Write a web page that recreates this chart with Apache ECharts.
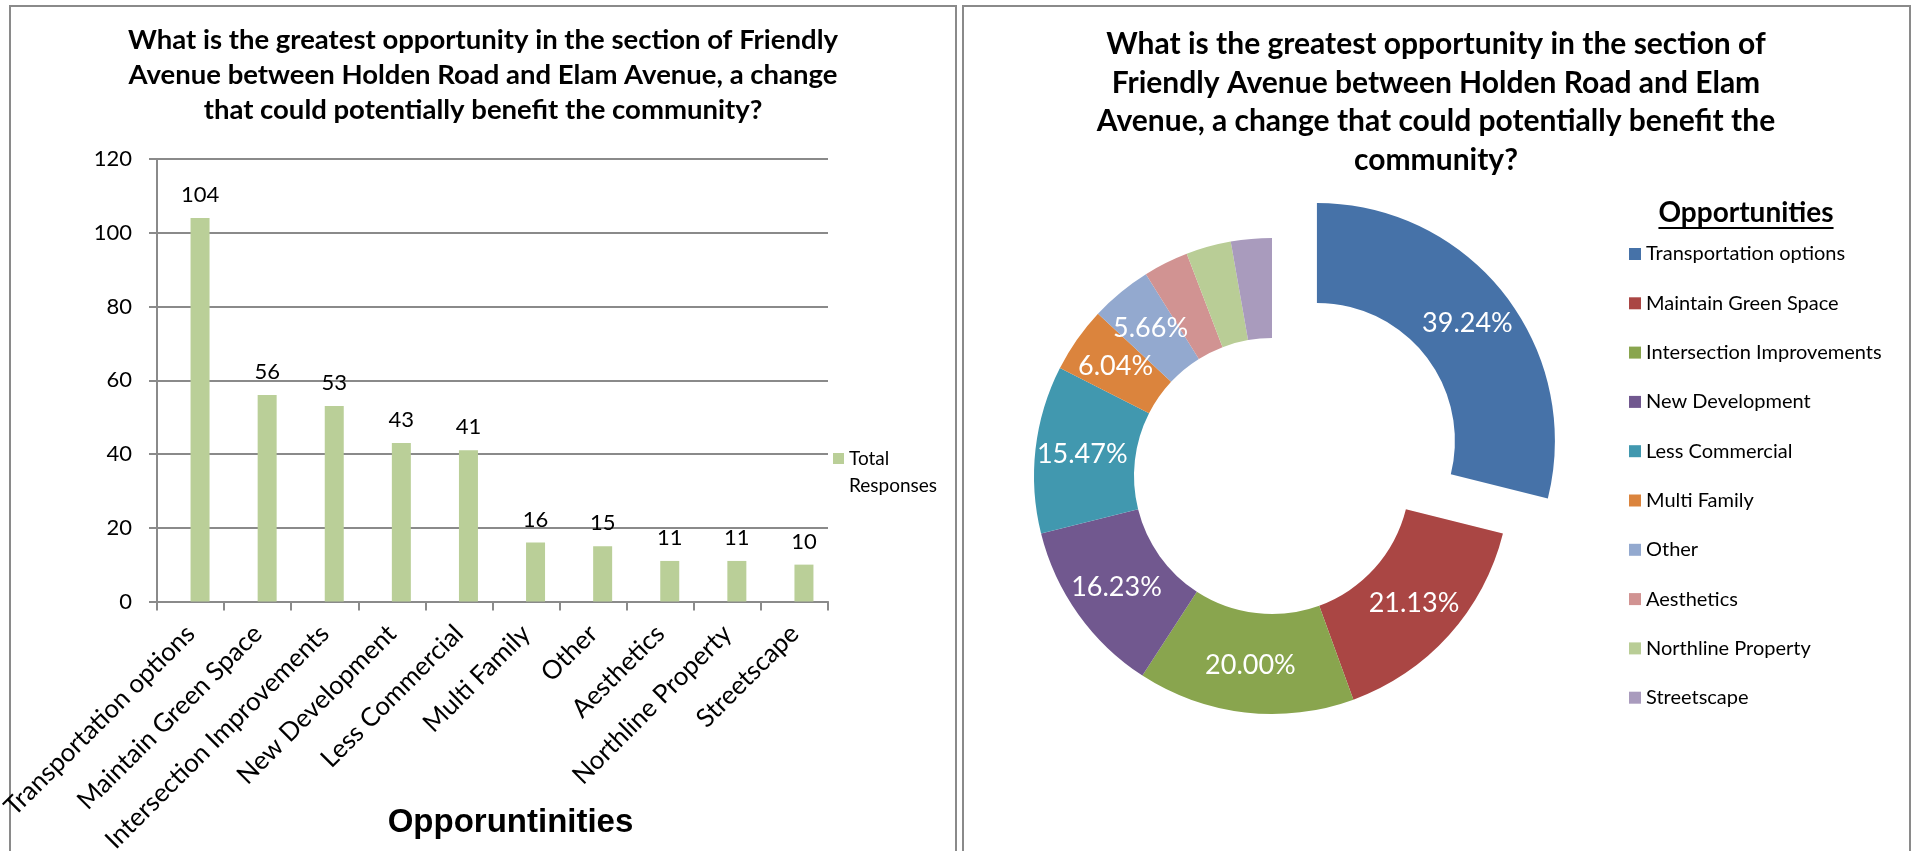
<!DOCTYPE html>
<html>
<head>
<meta charset="utf-8">
<script src="https://cdn.jsdelivr.net/npm/echarts@6/dist/echarts.min.js"></script>
<style>
  html, body { margin: 0; padding: 0; background: #ffffff; }
  #chart { width: 1917px; height: 851px; }
</style>
</head>
<body>
<div id="chart"></div>
<script>
// Survey answers: greatest opportunity on Friendly Avenue (Holden Rd – Elam Ave)
const categories = [
  'Transportation options', 'Maintain Green Space', 'Intersection Improvements',
  'New Development', 'Less Commercial', 'Multi Family', 'Other',
  'Aesthetics', 'Northline Property', 'Streetscape'
];
// number of answers per opportunity (bar chart)
const totalResponses = [104, 56, 53, 43, 41, 16, 15, 11, 11, 10];
// share of respondents choosing each opportunity, in percent (doughnut)
const respondentShare = [39.24, 21.13, 20.00, 16.23, 15.47, 6.04, 5.66, 4.15, 4.15, 3.77];
// empty companion series that keeps the bars in the right half of each slot
const spacerValues = [null, null, null, null, null, null, null, null, null, null];
const yAxisMin = 0;
const yAxisMax = 120;
const yAxisStep = 20;
const sliceColors = [
  '#4672A8', '#AA4644', '#89A54E', '#71588F', '#4198AF',
  '#DB843D', '#93A9CF', '#D19392', '#B9CD96', '#A99BBD'
];
const unlabelledSlices = ['Aesthetics', 'Northline Property', 'Streetscape'];
const barTitle = 'What is the greatest opportunity in the section of Friendly\n' +
  'Avenue between Holden Road and Elam Avenue, a change\n' +
  'that could potentially benefit the community?';
const pieTitle = 'What is the greatest opportunity in the section of\n' +
  'Friendly Avenue between Holden Road and Elam\n' +
  'Avenue, a change that could potentially benefit the\n' +
  'community?';
const barAxisName = 'Opporuntinities';
const legendHeading = 'Opportunities';
const barSeriesName = 'Total Responses';

const FONT = 'Lato, "Liberation Sans", sans-serif';
const GRAY = '#8a8a8a';

// width of the legend heading, used for its underline
function textWidth(str, font) {
  const ctx = document.createElement('canvas').getContext('2d');
  ctx.font = font;
  return ctx.measureText(str).width;
}
const headingFont = 'bold 28px Lato, "Liberation Sans", sans-serif';
const headingX = 1746;
const headingW = textWidth(legendHeading, headingFont);

const chart = echarts.init(document.getElementById('chart'), null, { renderer: 'canvas' });

const pieData = categories.map((name, i) => ({
  name: name,
  value: respondentShare[i],
  selected: i === 0,
  itemStyle: { color: sliceColors[i] },
  label: { show: unlabelledSlices.indexOf(name) < 0 }
}));

chart.setOption({
  backgroundColor: '#ffffff',
  animation: false,
  color: sliceColors,
  title: [
    {
      text: barTitle,
      left: 483, top: 23, padding: 0,
      textAlign: 'center',
      textStyle: { fontFamily: FONT, fontWeight: 'bold', fontSize: 27.5, lineHeight: 34.8, color: '#000' }
    },
    {
      text: pieTitle,
      left: 1436, top: 25, padding: 0,
      textAlign: 'center',
      textStyle: { fontFamily: FONT, fontWeight: 'bold', fontSize: 30, lineHeight: 38.7, color: '#000' }
    }
  ],
  legend: [
    {
      data: [barSeriesName],
      orient: 'vertical',
      left: 833, top: 418, padding: 0,
      icon: 'rect', itemWidth: 11, itemHeight: 11, itemGap: 0,
      // leading blank line keeps the marker level with the first word
      formatter: () => '\nTotal\nResponses',
      textStyle: { fontFamily: FONT, fontSize: 19, lineHeight: 27, color: '#000' },
      selectedMode: false
    },
    {
      data: categories,
      orient: 'vertical',
      left: 1629, top: 244, padding: 0,
      icon: 'rect', itemWidth: 12, itemHeight: 12, itemGap: 29.3,
      textStyle: { fontFamily: FONT, fontSize: 20, lineHeight: 20, color: '#000' },
      selectedMode: false
    }
  ],
  grid: {
    left: 157, top: 159, width: 671, height: 442.5,
    containLabel: false, outerBoundsMode: 'none'
  },
  xAxis: {
    type: 'category',
    data: categories,
    axisLine: { lineStyle: { color: GRAY, width: 2 } },
    axisTick: { show: true, length: 9, interval: 0, lineStyle: { color: GRAY, width: 2 } },
    axisLabel: {
      interval: 0, rotate: 45, margin: 28, hideOverlap: false,
      fontFamily: FONT, fontSize: 25.8, color: '#000'
    },
    name: barAxisName,
    nameLocation: 'middle',
    nameGap: 205,
    nameMoveOverlap: false,
    nameTextStyle: {
      fontFamily: '"Liberation Sans", Arial, sans-serif',
      fontWeight: 'bold', fontSize: 33, color: '#000',
      padding: [0, 0, 0, 36]
    }
  },
  yAxis: {
    type: 'value',
    min: yAxisMin, max: yAxisMax, interval: yAxisStep,
    axisLine: { show: true, lineStyle: { color: GRAY, width: 2 } },
    axisTick: { show: true, length: 8, lineStyle: { color: GRAY, width: 2 } },
    axisLabel: { margin: 25, fontFamily: FONT, fontSize: 22, color: '#000' },
    splitLine: { show: true, lineStyle: { color: GRAY, width: 2 } }
  },
  series: [
    {
      name: 'spacer',
      type: 'bar',
      data: spacerValues,
      barWidth: 19,
      barGap: '0%',
      silent: true
    },
    {
      name: barSeriesName,
      type: 'bar',
      data: totalResponses,
      barWidth: 19,
      barGap: '0%',
      itemStyle: { color: '#BACF98' },
      label: {
        show: true, position: 'top', distance: 12,
        fontFamily: FONT, fontSize: 22, color: '#000'
      },
      emphasis: { disabled: true }
    },
    {
      name: 'Opportunities',
      type: 'pie',
      center: [1272, 476],
      radius: [138, 238],
      startAngle: 90,
      clockwise: true,
      selectedMode: 'single',
      selectedOffset: 57,
      avoidLabelOverlap: false,
      itemStyle: { borderWidth: 0 },
      label: {
        position: 'inside',
        formatter: (p) => p.value.toFixed(2) + '%',
        fontFamily: FONT, fontSize: 27, color: '#ffffff',
        textBorderWidth: 0
      },
      labelLine: { show: false },
      emphasis: { disabled: true },
      data: pieData
    }
  ],
  graphic: [
    {
      type: 'rect', silent: true,
      shape: { x: 10, y: 6, width: 946, height: 880 },
      style: { fill: null, stroke: GRAY, lineWidth: 2 }
    },
    {
      type: 'rect', silent: true,
      shape: { x: 963, y: 6, width: 947, height: 880 },
      style: { fill: null, stroke: GRAY, lineWidth: 2 }
    },
    {
      type: 'text', silent: true,
      x: headingX, y: 213,
      style: {
        text: legendHeading, font: headingFont, fill: '#000',
        align: 'center', verticalAlign: 'middle'
      }
    },
    {
      type: 'line', silent: true,
      shape: { x1: headingX - headingW / 2, y1: 228, x2: headingX + headingW / 2, y2: 228 },
      style: { stroke: '#000', lineWidth: 2 }
    }
  ]
});
</script>
</body>
</html>
